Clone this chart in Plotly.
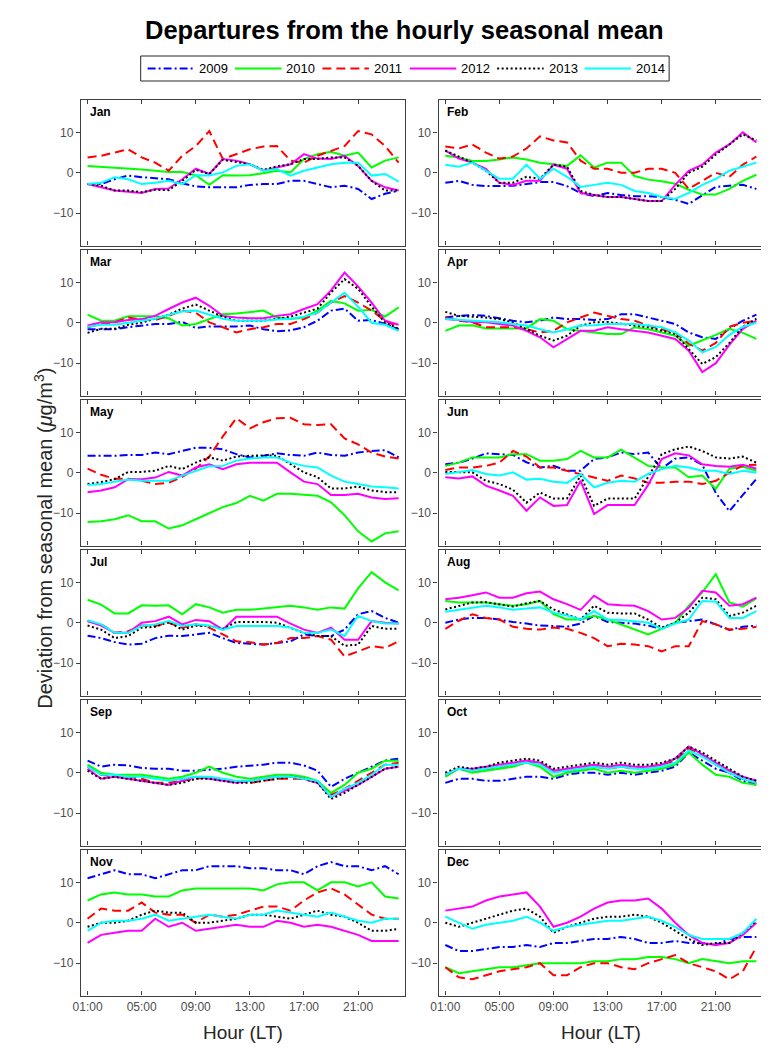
import plotly.graph_objects as go

W, H = 769, 1049
hours = list(range(1, 25))
hour_ticks = [1, 5, 9, 13, 17, 21]
hour_labels = ["01:00", "05:00", "09:00", "13:00", "17:00", "21:00"]
y_ticks = [-10, 0, 10]
years = ["2009", "2010", "2011", "2012", "2013", "2014"]
months = ["Jan", "Feb", "Mar", "Apr", "May", "Jun",
          "Jul", "Aug", "Sep", "Oct", "Nov", "Dec"]

# each month: rows are years 2009..2014, 24 hourly values each
jan = [
    [-2.8,-2.8,-1.6,-0.7,-1.1,-1.4,-1.6,-2.6,-3.4,-3.6,-3.6,-3.6,-3.0,-2.8,-2.8,-2.0,-2.0,-2.8,-3.6,-3.2,-4.0,-6.5,-5.2,-4.4],
    [1.7,1.5,1.3,1.1,0.8,0.5,0.2,0.2,-0.6,-3.0,-0.6,-0.7,-0.6,-0.1,0.5,0.1,3.4,4.6,5.2,4.2,5.0,1.3,3.0,3.8],
    [3.8,4.2,5.0,5.8,3.8,2.5,0.5,4.2,6.6,10.3,3.4,4.6,5.8,6.5,6.6,3.0,2.5,4.2,5.4,6.6,10.3,9.5,6.6,2.5],
    [-2.8,-3.6,-4.4,-4.7,-5.0,-4.0,-3.9,-1.6,1.0,-0.3,3.4,3.0,2.1,0.5,1.3,2.1,4.6,3.5,3.4,4.2,1.7,-2.0,-3.6,-4.4],
    [-2.8,-3.2,-4.4,-4.4,-4.8,-4.2,-4.3,-2.0,0.7,-0.3,3.2,2.7,2.1,0.7,1.6,2.1,3.4,3.4,3.8,3.8,1.7,-2.0,-4.4,-4.4],
    [-2.8,-2.5,-1.1,-1.6,-2.8,-2.5,-2.0,-2.8,-0.6,-0.7,0.1,1.7,2.1,0.5,0.9,-0.7,0.5,1.3,2.1,2.5,2.5,-0.7,-0.3,-2.2],
]
feb = [
    [-2.5,-2.0,-3.0,-3.3,-3.3,-3.2,-2.8,-2.3,-2.3,-3.3,-5.0,-5.8,-5.0,-5.5,-5.8,-5.8,-6.0,-6.7,-7.7,-5.5,-3.5,-3.2,-3.0,-4.0],
    [4.2,3.8,2.9,2.9,3.3,3.8,3.3,2.5,2.1,1.7,4.3,1.3,2.5,2.5,-0.8,-1.7,-2.1,-2.7,-4.2,-5.4,-5.4,-4.0,-2.0,-0.5],
    [6.5,6.0,7.0,5.0,3.5,4.0,6.0,9.0,8.0,7.5,3.0,1.0,1.0,0.0,0.0,1.0,1.0,0.0,-4.0,-2.0,0.0,-1.0,2.0,4.0],
    [5.5,3.5,2.5,1.0,-2.5,-3.0,-2.0,-2.0,2.0,1.0,-5.0,-5.5,-6.0,-6.0,-6.5,-7.0,-7.0,-3.0,0.5,2.0,5.0,7.0,10.0,7.5],
    [5.5,4.0,2.5,0.5,-2.5,-2.5,-1.0,-1.5,2.0,1.5,-4.5,-5.5,-6.0,-6.0,-6.5,-7.0,-7.0,-4.0,0.0,1.5,4.5,7.0,9.5,8.0],
    [2.0,1.5,2.5,0.5,-1.5,-1.5,2.0,-1.5,1.0,-1.0,-3.5,-3.0,-2.5,-3.0,-4.5,-5.0,-6.0,-6.5,-5.0,-3.0,-1.5,0.5,1.5,2.5],
]
mar = [
    [-1.6,-1.6,-1.6,-1.1,-0.7,-0.3,-0.3,0.2,-1.3,-0.9,-0.9,-0.9,-0.7,-1.6,-2.1,-1.9,-1.1,0.5,3.0,3.5,0.5,0.7,-0.3,-1.6],
    [2.0,0.5,0.5,1.6,1.6,1.6,1.1,-0.7,-0.3,0.9,2.1,2.3,2.7,3.0,1.3,0.9,1.3,3.0,5.4,4.8,3.0,3.2,1.5,3.8],
    [-1.1,-0.3,0.1,1.3,0.7,0.7,1.7,3.0,2.5,0.1,-1.1,-2.4,-1.6,-1.1,-0.3,-0.3,0.9,2.5,5.0,6.6,5.0,3.0,0.5,-1.1],
    [-0.7,0.1,0.1,0.7,0.9,1.7,3.4,5.0,6.2,4.2,1.7,1.3,1.1,1.1,1.7,2.1,3.4,4.6,8.0,12.4,9.0,5.0,0.5,-0.5],
    [-2.5,-1.5,-1.5,-0.5,0.0,1.0,2.0,3.5,4.5,3.0,1.5,0.5,0.5,0.5,1.0,1.5,2.5,3.5,7.5,10.8,8.4,4.0,0.0,-1.5],
    [-1.0,-0.5,-0.5,0.0,0.5,1.0,2.0,2.8,3.0,2.0,1.0,0.5,0.5,0.5,0.8,1.0,1.5,2.5,5.0,7.4,4.0,0.0,-0.5,-2.0],
]
apr = [
    [1.3,1.7,1.9,1.7,1.1,0.5,0.1,0.5,1.3,0.9,0.9,0.7,0.9,2.1,2.1,1.3,0.5,-0.3,-2.4,-3.6,-4.0,-1.5,0.5,2.0],
    [-2.0,-0.7,-0.6,-1.4,-1.4,-1.4,-1.4,0.9,0.5,-1.6,-2.0,-2.4,-2.8,-2.8,-1.1,-1.6,-2.4,-3.2,-5.7,-4.4,-3.0,-1.5,-2.5,-4.0],
    [1.3,0.5,0.1,-1.1,-1.1,-1.1,-1.6,-2.4,-2.0,0.1,1.3,2.5,1.7,0.9,0.5,-0.7,-1.6,-2.4,-5.2,-6.9,-5.0,-1.0,0.0,0.5],
    [0.9,0.7,0.2,0.1,-0.3,-0.7,-2.0,-3.6,-6.1,-4.0,-2.0,-2.0,-1.1,-1.6,-2.0,-2.4,-3.2,-4.0,-6.9,-12.2,-10.0,-5.5,-1.5,0.5],
    [2.7,1.7,1.5,1.3,0.9,0.1,-1.6,-3.2,-4.4,-3.2,-0.7,0.1,0.2,-0.3,-0.7,-1.1,-2.0,-2.8,-6.5,-10.2,-8.5,-5.0,-1.0,1.0],
    [0.9,0.7,0.5,0.2,0.1,-0.3,-0.7,-1.6,-2.4,-1.6,-0.7,-0.6,-0.3,-0.3,-0.3,-0.7,-1.1,-2.4,-4.4,-7.3,-6.0,-3.0,-1.0,0.0],
]
may = [
    [4.2,4.2,4.2,4.4,4.4,5.0,4.6,5.4,6.2,6.2,5.8,4.6,3.8,4.2,4.8,4.4,4.2,5.0,4.4,4.2,5.0,5.4,5.6,3.8],
    [-12.2,-12.0,-11.5,-10.5,-12.0,-12.0,-13.8,-13.0,-11.5,-10.0,-8.5,-7.5,-5.7,-6.9,-5.2,-5.2,-5.5,-5.7,-7.3,-10.5,-14.5,-17.0,-15.0,-14.5],
    [1.0,-0.5,-1.5,-1.5,-2.0,-2.8,-2.5,-1.0,1.0,4.0,9.0,13.5,11.0,12.5,13.5,13.6,12.0,11.8,12.0,8.5,7.0,5.0,4.0,3.5],
    [-4.8,-4.4,-3.6,-1.6,-1.6,-1.2,0.2,-0.7,1.3,2.1,0.9,2.1,2.5,2.5,2.5,0.1,-2.2,-2.8,-5.5,-5.5,-5.2,-6.1,-6.5,-6.3],
    [-2.8,-2.3,-1.6,0.2,0.2,0.5,1.7,0.9,2.5,3.8,3.0,4.0,4.2,4.3,4.2,2.1,0.1,-1.1,-3.9,-3.9,-3.4,-4.4,-4.8,-4.8],
    [-3.0,-2.8,-2.2,-1.7,-2.0,-2.0,-2.0,-0.7,0.5,1.6,1.7,3.0,3.5,3.8,3.8,2.5,1.7,1.3,-0.7,-2.2,-2.8,-3.4,-3.6,-3.9],
]
jun = [
    [2.1,2.5,3.5,4.8,4.6,4.4,2.6,1.3,1.7,0.5,0.5,3.4,3.8,5.0,4.6,5.0,1.0,3.5,3.8,2.0,-5.0,-9.5,-5.5,-1.5],
    [1.7,2.5,3.8,3.8,3.8,4.6,4.6,3.0,3.0,3.4,5.4,3.8,3.8,5.7,3.8,1.7,1.3,1.3,-1.1,-0.7,-4.0,1.0,1.5,0.5],
    [0.7,1.3,1.3,1.7,2.5,5.4,4.0,1.3,1.3,0.5,-0.3,-1.1,-2.0,-0.7,-1.4,-2.5,-2.5,-2.2,-2.2,-2.8,-2.0,0.0,1.8,2.0],
    [-1.1,-1.4,-0.9,-3.2,-4.4,-5.7,-9.4,-6.1,-8.2,-8.0,-2.0,-10.2,-8.0,-8.0,-8.0,-3.0,3.4,4.8,4.3,2.1,1.7,1.5,2.0,1.0],
    [0.2,0.2,0.1,-2.0,-2.8,-4.2,-7.4,-4.9,-6.4,-6.4,-0.7,-8.2,-6.4,-6.4,-6.4,-1.0,4.6,5.8,6.5,5.4,3.8,3.5,4.0,2.5],
    [-0.3,0.2,0.7,-0.3,-0.7,0.1,-1.7,-1.5,-2.2,-2.5,-0.3,-3.6,-2.5,-2.0,-2.2,-0.3,0.9,1.7,1.3,0.5,0.5,-0.3,0.5,0.0],
]
jul = [
    [-3.2,-3.8,-4.8,-5.4,-5.2,-3.8,-3.2,-3.3,-2.9,-2.5,-3.8,-5.0,-5.2,-5.4,-5.0,-4.6,-2.9,-3.3,-3.3,-1.7,2.1,2.9,1.2,0.0],
    [5.7,4.5,2.3,2.3,4.3,4.2,4.3,2.1,4.6,3.8,2.5,3.2,3.2,3.5,3.8,4.2,3.8,3.2,3.8,3.5,8.5,12.5,10.0,8.0],
    [0.4,-0.4,-2.5,-2.1,-0.7,-0.8,0.0,-1.2,-0.4,-1.2,-2.9,-4.6,-4.8,-5.4,-5.0,-3.8,-3.8,-3.3,-4.2,-8.3,-7.1,-5.8,-6.2,-4.6],
    [0.4,-0.7,-2.5,-2.5,0.0,0.4,1.5,-0.4,0.7,0.4,-1.7,1.5,1.5,1.5,1.5,-0.2,-1.7,-2.5,-1.2,-4.2,-4.2,0.4,0.0,-0.2],
    [-0.7,-1.7,-3.8,-3.3,-1.2,-1.0,0.2,-1.7,-0.7,-0.8,-1.5,0.2,0.2,0.2,0.0,-1.2,-2.5,-3.3,-3.3,-5.7,-5.4,-0.8,-1.5,-1.5],
    [0.6,-0.4,-2.5,-2.5,-0.8,-0.4,0.4,-0.8,-0.4,-0.7,-1.7,-0.8,-0.8,-0.8,-0.8,-1.2,-2.5,-2.5,-1.7,-3.3,1.7,0.4,-0.2,-0.2],
]
aug = [
    [0.0,0.8,1.2,1.2,0.8,0.2,-0.2,-0.7,-0.8,-1.0,-0.2,1.7,0.2,0.0,-0.2,-0.7,-1.5,0.0,0.4,0.8,-0.4,-1.8,-1.0,-0.7],
    [5.4,5.0,5.0,5.0,4.6,4.2,4.6,5.4,2.1,0.8,0.8,1.7,0.8,-0.4,-1.7,-2.9,-1.5,0.0,4.2,7.5,12.0,5.0,4.0,6.0],
    [-1.5,0.5,2.1,1.2,0.8,-1.0,-1.5,-1.7,-1.2,-1.5,-2.5,-3.8,-5.8,-5.2,-5.4,-5.8,-7.1,-5.8,-5.8,0.4,-0.4,-1.7,-1.5,-1.0],
    [5.8,6.2,6.8,7.5,6.2,6.2,7.3,7.7,5.8,4.6,3.2,6.7,4.6,4.3,4.2,2.9,0.8,1.2,3.7,7.9,7.5,4.2,4.6,6.2],
    [3.3,4.2,5.0,5.1,4.6,4.0,4.8,5.4,3.3,2.1,0.8,4.2,2.5,2.3,2.3,0.8,-1.2,0.0,2.5,6.2,5.8,1.7,2.5,4.2],
    [2.7,3.2,3.8,4.2,3.8,3.2,3.5,3.8,2.5,1.8,0.8,2.9,0.8,0.7,0.4,0.0,-1.5,-0.2,0.8,5.4,5.2,1.2,1.2,2.9],
]
sep = [
    [3.0,1.5,2.0,1.8,1.2,1.0,1.0,0.5,0.5,0.8,1.0,1.5,1.8,2.0,2.5,2.5,1.8,0.5,-3.5,-1.5,0.0,1.5,3.0,3.5],
    [2.0,0.0,-0.5,-0.5,-0.5,-1.0,-1.5,-1.0,0.0,1.5,0.0,-1.0,-1.5,-1.0,-0.5,-0.5,-1.0,-2.0,-5.0,-3.0,0.0,1.0,3.0,3.0],
    [1.5,-0.5,-1.0,-1.0,-1.5,-2.5,-2.5,-2.0,-1.5,-1.0,-2.0,-2.0,-2.5,-2.0,-1.5,-1.5,-1.5,-2.5,-5.5,-4.0,-2.0,0.0,2.0,2.5],
    [1.0,-1.5,-1.0,-1.5,-2.0,-2.5,-3.0,-2.0,-1.0,-1.5,-2.0,-2.5,-2.0,-1.5,-1.0,-1.0,-1.5,-2.5,-6.0,-4.5,-3.0,-1.0,1.0,1.5],
    [0.5,-1.5,-1.0,-1.5,-2.0,-2.5,-3.0,-2.5,-1.5,-1.5,-2.0,-2.5,-2.5,-2.0,-1.5,-1.0,-1.5,-2.5,-6.5,-5.0,-3.0,-1.0,1.0,1.5],
    [1.5,-0.5,-0.5,-1.0,-1.0,-1.5,-2.0,-1.5,-1.0,-1.0,-1.5,-2.0,-2.0,-1.5,-1.0,-1.0,-1.5,-2.0,-6.0,-4.0,-2.5,-0.5,2.0,2.0],
]
oct_ = [
    [-2.5,-1.5,-1.5,-2.0,-2.0,-1.5,-1.0,-1.0,-1.5,-0.5,0.0,0.0,-0.5,0.0,-0.5,0.0,0.5,1.5,5.0,3.0,1.0,0.0,-2.0,-3.0],
    [-1.0,1.0,0.0,0.5,1.0,1.5,2.5,1.5,-1.0,0.0,0.5,1.0,0.0,0.5,0.0,0.5,1.0,2.0,5.0,2.0,-0.5,-1.0,-2.5,-3.0],
    [-0.5,1.0,0.5,1.0,1.5,2.0,2.5,2.5,0.5,0.5,1.0,1.5,1.0,1.5,1.0,1.5,2.0,3.0,6.0,4.5,2.0,0.0,-1.5,-2.5],
    [-0.5,1.0,1.0,1.5,2.0,2.5,3.0,2.5,0.5,1.0,1.5,2.0,1.5,2.0,1.5,1.5,2.0,3.5,6.5,4.5,2.5,0.5,-1.0,-2.0],
    [0.0,1.5,1.0,1.5,2.5,3.0,3.5,3.0,1.0,1.5,2.0,2.5,2.0,2.5,2.0,2.0,2.5,3.5,6.5,5.0,3.0,1.0,-1.0,-2.0],
    [-0.5,1.0,0.5,1.0,1.5,2.0,2.5,2.0,0.0,0.5,1.0,1.5,1.0,1.5,1.0,1.0,1.5,2.5,5.5,4.0,2.0,0.0,-1.5,-2.5],
]
nov = [
    [11.0,12.0,13.0,12.0,12.0,11.0,12.0,13.0,13.0,14.0,14.0,14.0,13.5,13.5,13.0,13.0,12.0,14.0,15.0,14.0,14.0,13.0,14.0,12.0],
    [5.5,7.0,7.5,7.0,7.0,6.5,6.5,8.0,8.5,8.5,8.5,8.5,8.5,8.0,9.5,10.0,10.0,8.0,10.0,10.0,9.0,10.0,6.5,6.0],
    [1.0,3.5,3.0,3.0,5.0,2.5,2.0,2.0,0.0,2.0,1.5,2.0,3.0,4.0,4.0,3.0,5.5,7.5,8.5,7.0,4.5,2.0,1.0,1.0],
    [-5.0,-3.0,-2.5,-2.0,-2.0,1.0,-1.0,0.0,-2.0,-1.5,-1.0,-0.5,-1.0,-1.0,0.5,0.0,-1.0,-0.5,-1.0,-2.0,-3.0,-4.5,-4.5,-4.5],
    [-1.0,0.0,0.0,0.5,2.0,3.0,2.5,2.5,0.0,0.0,0.5,1.0,2.0,2.0,1.5,1.0,2.0,3.0,2.0,1.5,0.0,-2.0,-2.0,-1.5],
    [-2.0,0.0,0.5,0.5,1.0,2.0,0.5,1.0,1.5,2.0,1.5,1.0,2.0,2.0,3.0,2.5,2.0,1.5,2.5,1.5,0.5,0.0,1.0,1.0],
]
dec = [
    [-5.5,-7.0,-7.0,-6.5,-6.0,-6.0,-5.5,-6.0,-5.0,-5.0,-4.5,-4.0,-4.0,-3.5,-4.0,-5.0,-5.0,-4.5,-5.0,-5.0,-5.5,-4.0,-3.5,-3.5],
    [-11.0,-12.5,-12.0,-11.5,-11.0,-11.0,-10.5,-10.0,-10.0,-10.0,-10.0,-9.5,-9.5,-9.0,-9.0,-8.5,-8.5,-9.0,-10.0,-9.0,-9.5,-10.0,-9.5,-9.5],
    [-11.0,-13.5,-14.0,-13.0,-12.0,-11.5,-11.0,-10.0,-13.0,-13.0,-11.0,-10.0,-10.0,-11.0,-11.5,-10.0,-9.0,-8.0,-10.0,-11.0,-12.0,-14.0,-12.0,-6.0],
    [3.0,3.5,4.0,5.5,6.5,7.0,7.5,4.0,-1.0,0.0,1.5,3.5,5.0,5.5,5.5,6.0,3.5,0.0,-3.0,-5.0,-5.5,-5.0,-3.0,0.0],
    [0.0,-1.0,0.0,1.0,2.0,3.0,3.5,1.5,-2.5,-1.0,0.0,1.0,1.5,1.5,2.0,1.5,0.0,-2.0,-4.0,-5.5,-5.0,-5.0,-2.5,0.5],
    [1.5,0.0,-1.5,-0.5,0.0,0.5,1.5,0.0,-2.0,-1.0,-0.5,0.0,0.5,0.5,1.0,1.5,0.5,-1.0,-3.0,-4.0,-4.0,-4.0,-2.5,1.0],
]
month_data = [jan, feb, mar, apr, may, jun, jul, aug, sep, oct_, nov, dec]

colors = ["#0000FF", "#00FF00", "#FF0000", "#FF00FF", "#000000", "#00FFFF"]
dashes = ["8px,3px,2px,3px", "solid", "9px,5px", "solid", "2px,2.5px", "solid"]

FONT = "Liberation Sans, Arial, Helvetica, sans-serif"
AXC = "#404040"

# layout geometry in pixels
col_x = [(65.5, 393.5), (427.0, 755.0)]
row_top0, row_pitch, row_h = 92.0, 150.0, 145.5

def px(x):
    return x / W

def py(y):
    return 1 - y / H

fig = go.Figure()
annotations = []
shapes = []
layout = {}

for k, name in enumerate(months):
    r, c = divmod(k, 2)
    ax = "" if k == 0 else str(k + 1)
    top = row_top0 + r * row_pitch
    bot = top + row_h
    x0, x1 = col_x[c]
    for j, yr in enumerate(years):
        fig.add_trace(go.Scatter(
            x=hours, y=month_data[k][j], mode="lines", name=yr,
            line=dict(color=colors[j], width=2, dash=dashes[j]),
            xaxis="x" + ax, yaxis="y" + ax, showlegend=False,
            hoverinfo="skip"))
    layout["xaxis" + ax] = dict(
        domain=[px(x0), px(x1)], anchor="y" + ax, range=[0.5, 24.5],
        tickvals=hour_ticks, ticktext=hour_labels, showticklabels=(r == 5),
        ticks="inside", ticklen=4, tickwidth=1, tickcolor=AXC,
        showline=True, linecolor=AXC, linewidth=1.2, mirror="ticks",
        showgrid=False, zeroline=False,
        tickfont=dict(family=FONT, size=12, color="#4d4d4d"))
    layout["yaxis" + ax] = dict(
        domain=[py(bot), py(top)], anchor="x" + ax, range=[-18, 18],
        tickvals=y_ticks, ticks="outside", ticklen=4, tickwidth=1,
        tickcolor=AXC, showline=True, linecolor=AXC, linewidth=1.2,
        mirror=True, showgrid=False, zeroline=False,
        tickfont=dict(family=FONT, size=12, color="#4d4d4d"))
    annotations.append(dict(
        text="<b>%s</b>" % name, x=px(x0 + 7), y=py(top + 3),
        xref="paper", yref="paper", xanchor="left", yanchor="top",
        showarrow=False, font=dict(family=FONT, size=12, color="black")))

# title
annotations.append(dict(
    text="<b>Departures from the hourly seasonal mean</b>",
    x=px(393), y=py(22), xref="paper", yref="paper", xanchor="center",
    yanchor="middle", showarrow=False,
    font=dict(family=FONT, size=25.5, color="black")))

# x axis titles
for c in range(2):
    x0, x1 = col_x[c]
    annotations.append(dict(
        text="Hour (LT)", x=px((x0 + x1) / 2), y=py(1024), xref="paper",
        yref="paper", xanchor="center", yanchor="middle", showarrow=False,
        font=dict(family=FONT, size=19, color="#262626")))

# y axis title
annotations.append(dict(
    text="Deviation from seasonal mean (<i>μ</i>g/m<sup>3</sup>)",
    x=px(27), y=py(530),
    xref="paper", yref="paper", xanchor="center", yanchor="middle",
    textangle=-90, showarrow=False,
    font=dict(family=FONT, size=20, color="#262626")))

# legend box (drawn manually)
lg_x0, lg_x1, lg_y0, lg_y1 = 126, 660, 48, 73
shapes.append(dict(type="rect", xref="paper", yref="paper",
                   x0=px(lg_x0), x1=px(lg_x1), y0=py(lg_y1), y1=py(lg_y0),
                   line=dict(color="#262626", width=1), fillcolor="white"))
lg_mid = (lg_y0 + lg_y1) / 2
for j, yr in enumerate(years):
    lx = 133 + 88.3 * j
    shapes.append(dict(type="line", xref="paper", yref="paper",
                       x0=px(lx), x1=px(lx + 47), y0=py(lg_mid), y1=py(lg_mid),
                       line=dict(color=colors[j], width=2, dash=dashes[j])))
    annotations.append(dict(
        text=yr, x=px(lx + 50), y=py(lg_mid), xref="paper", yref="paper",
        xanchor="left", yanchor="middle", showarrow=False,
        font=dict(family=FONT, size=13, color="black")))

fig.update_layout(
    width=W, height=H, margin=dict(l=0, r=0, t=0, b=0),
    paper_bgcolor="white", plot_bgcolor="white", showlegend=False,
    annotations=annotations, shapes=shapes, **layout)

fig.write_html("out.html")
